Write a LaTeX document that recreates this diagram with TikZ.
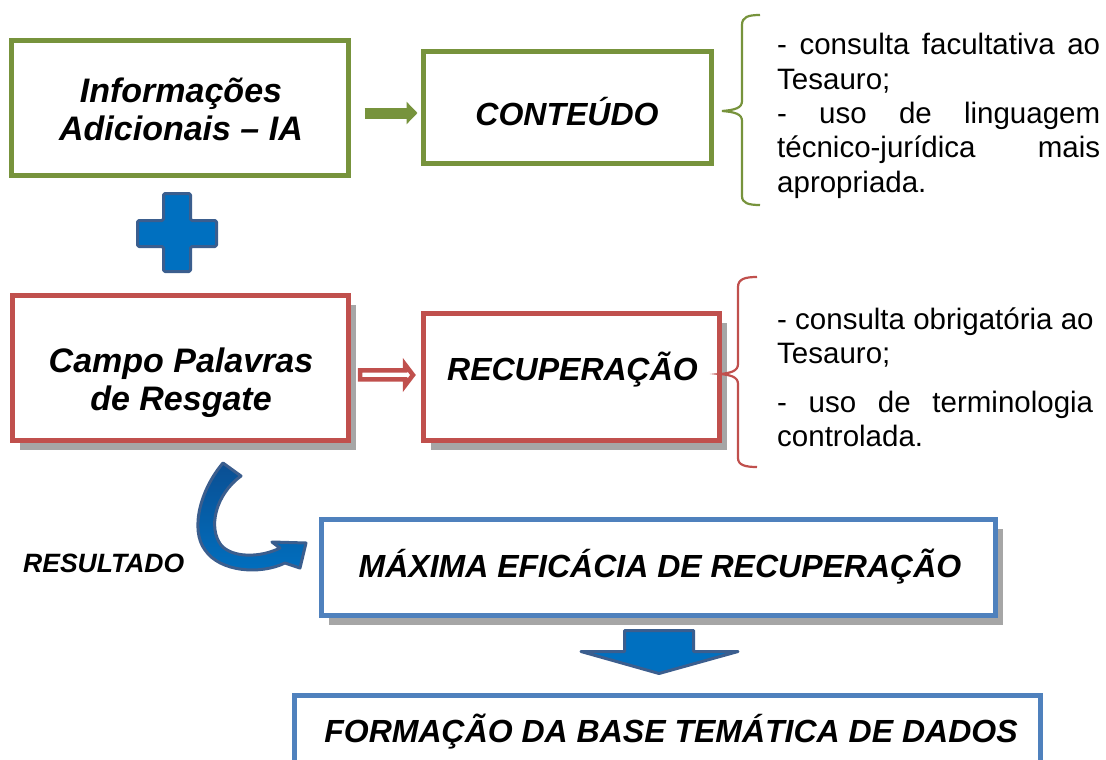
\documentclass[tikz,border=0pt]{standalone}
\usepackage{fontspec}
\setmainfont{Liberation Sans}
\usetikzlibrary{arrows.meta,shadows}
\definecolor{ggreen}{HTML}{77933C}
\definecolor{rred}{HTML}{C0504D}
\definecolor{bblue}{HTML}{4F81BD}
\definecolor{pfill}{HTML}{0070C0}
\definecolor{pline}{HTML}{3B5E8E}
\definecolor{cdark}{HTML}{0B4F93}
\definecolor{shad}{HTML}{A6A6A6}
\newcommand\twoln[2]{\begin{tabular}[b]{@{}c@{}}#1\\#2\end{tabular}}
\begin{document}
\begin{tikzpicture}[x=1pt,y=-1pt,
  box/.style={draw, line width=5pt, fill=white, inner sep=0pt},
  gbox/.style={box, draw=ggreen},
  shbox/.style={box, drop shadow={shadow xshift=7pt, shadow yshift=-9pt, fill=shad, opacity=1}},
  rbox/.style={shbox, draw=rred},
  bbox/.style={shbox, draw=bblue},
  fbox/.style={box, draw=bblue},
  bigtxt/.style={font=\fontsize{34}{38}\selectfont\bfseries\itshape, inner sep=0pt, anchor=base},
  midtxt/.style={font=\fontsize{32}{36.8}\selectfont\bfseries\itshape, inner sep=0pt, anchor=base},
  restxt/.style={font=\fontsize{26.5}{30}\selectfont\bfseries\itshape, inner sep=0pt, anchor=base west},
  sidetxt/.style={font=\fontsize{29.5}{34}\selectfont, inner sep=0pt, anchor=base west},
  garrow/.style={draw=ggreen, line width=11pt, -{Triangle[length=11pt,width=22pt]}},
  blockarrow/.style={draw=pline, line width=3pt, fill=pfill, line join=round},
  hollowarrow/.style={draw=rred, line width=4.5pt, fill=white, line join=miter},
  gbrace/.style={draw=ggreen, line width=2.2pt},
  rbrace/.style={draw=rred, line width=2.2pt}
]
\useasboundingbox (0,0) rectangle (1106,760);
\clip (0,0) rectangle (1106,760);

% boxes
\node[gbox, minimum width=337pt, minimum height=135pt] (ia) at (180,108) {};
\node[gbox, minimum width=288pt, minimum height=112pt] (cont) at (567.5,107.5) {};
\node[rbox, minimum width=336pt, minimum height=145pt] (campo) at (180.5,368) {};
\node[rbox, minimum width=296pt, minimum height=127pt] (recup) at (571.5,377) {};
\node[bbox, minimum width=674pt, minimum height=96pt] (max) at (658.5,567.5) {};
\node[fbox, minimum width=746pt, minimum height=102pt] (form) at (667.5,746.5) {};

% box texts
\node[bigtxt] (iat) at (181,140) {\twoln{Informações}{Adicionais – IA}};
\node[midtxt] (contt) at (567,125) {CONTEÚDO};
\node[bigtxt] (campot) at (181,410) {\twoln{Campo Palavras}{de Resgate}};
\node[midtxt] (recupt) at (572.5,380) {RECUPERAÇÃO};
\node[midtxt] (maxt) at (660,577) {MÁXIMA EFICÁCIA DE RECUPERAÇÃO};
\node[midtxt] (formt) at (671,742) {FORMAÇÃO DA BASE TEMÁTICA DE DADOS};
\node[restxt] (res) at (23,572) {RESULTADO};

% green arrow
\draw[garrow] ([shift={(13.5,5)}]ia.east) -- ([shift={(-3.5,5.5)}]cont.west);

% red hollow arrow
\draw[hollowarrow] (360,370.25) -- (405,370.25) -- (405,364.5) -- (413,375) -- (405,385.5) -- (405,379.25) -- (360,379.25) -- cycle;

% plus sign
\draw[blockarrow, rounded corners=1.5pt] (163.5,193.5) -- (190.5,193.5) -- (190.5,220.5) -- (216.5,220.5) -- (216.5,246.5) -- (190.5,246.5) -- (190.5,271.5) -- (163.5,271.5) -- (163.5,246.5) -- (137.5,246.5) -- (137.5,220.5) -- (163.5,220.5) -- cycle;

% down arrow
\draw[blockarrow] (624.5,630.5) -- (693.5,630.5) -- (693.5,651.5) -- (738,651.5) -- (659,673.5) -- (581,651.5) -- (624.5,651.5) -- cycle;

% curved arrow
\path[draw=pline, line width=3pt, line join=round, top color=cdark, bottom color=pfill]
  (223,463) .. controls (200,490) and (190,530) .. (205,550)
  .. controls (220,572) and (260,575) .. (285,563)
  -- (300,568) -- (306,543) -- (272,542) -- (280,548)
  .. controls (260,558) and (232,558) .. (221,545)
  .. controls (208,528) and (215,495) .. (241,476) -- cycle;

% braces
\draw[gbrace] (760,15) .. controls (748,15) and (742,17) .. (742,25) -- (742,101)
  .. controls (742,108) and (735,110) .. (722,111)
  .. controls (735,112) and (742,114) .. (742,121) -- (742,196)
  .. controls (742,203) and (748,205) .. (760,205);
\draw[rbrace] (757,277) .. controls (745,277) and (738,279) .. (738,287) -- (738,364)
  .. controls (738,371) and (731,373) .. (720,374)
  .. controls (731,375) and (738,377) .. (738,384) -- (738,458)
  .. controls (738,465) and (745,467) .. (757,467);

% side texts
\node[sidetxt] (g1) at (777,55) {\makebox[323pt][s]{- consulta facultativa ao}};
\node[sidetxt] (g2) at (777,89) {Tesauro;};
\node[sidetxt] (g3) at (777,123) {\makebox[323pt][s]{- uso de linguagem}};
\node[sidetxt] (g4) at (777,157) {\makebox[323pt][s]{técnico-jurídica mais}};
\node[sidetxt] (g5) at (777,192) {apropriada.};
\node[sidetxt] (r1) at (777,329) {- consulta obrigatória ao};
\node[sidetxt] (r2) at (777,363) {Tesauro;};
\node[sidetxt] (r3) at (777,412) {\makebox[316pt][s]{- uso de terminologia}};
\node[sidetxt] (r4) at (777,446) {controlada.};
\end{tikzpicture}
\end{document}
